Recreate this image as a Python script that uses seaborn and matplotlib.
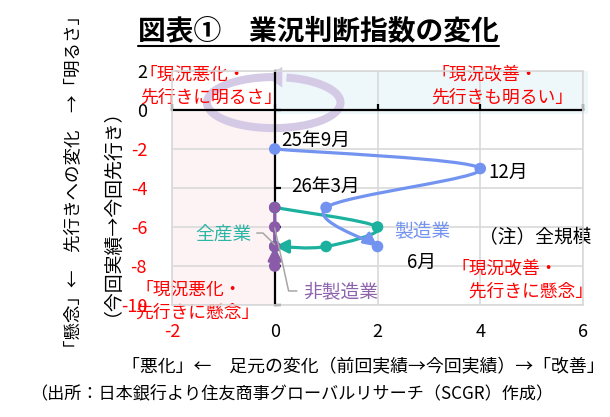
import numpy as np
import pandas as pd
import matplotlib
matplotlib.use("Agg")
import matplotlib.pyplot as plt
import seaborn as sns
from matplotlib.path import Path
from matplotlib.patches import FancyArrowPatch, Rectangle
from matplotlib.lines import Line2D

# ---------------- data ----------------
x_ticks = [-2, 0, 2, 4, 6]
y_ticks = [-10, -8, -6, -4, -2, 0, 2]
x_tick_labels = ["-2", "0", "2", "4", "6"]
y_tick_labels = ["-10", "-8", "-6", "-4", "-2", "0", "2"]

periods = ["25年9月", "12月", "26年3月", "6月"]
manu_x = [0, 4, 1, 2]          # 製造業: 足元の変化
manu_y = [-2, -3, -5, -7]      # 製造業: 先行きへの変化
all_x = [0, 2, 1, 0]           # 全産業
all_y = [-5, -6, -7, -7]
nonmanu_x = [0, 0, 0, 0]       # 非製造業
nonmanu_y = [-5, -6, -8, -7]

series_names = ["製造業", "全産業", "非製造業"]
colors = {"製造業": "#7393F0", "全産業": "#1BB19E", "非製造業": "#8A5BA8"}

df = pd.concat([
    pd.DataFrame({"x": manu_x, "y": manu_y, "series": "製造業", "period": periods}),
    pd.DataFrame({"x": all_x, "y": all_y, "series": "全産業", "period": periods}),
    pd.DataFrame({"x": nonmanu_x, "y": nonmanu_y, "series": "非製造業", "period": periods}),
], ignore_index=True)

# ---------------- style ----------------
sns.set_theme(style="white")
plt.rcParams["font.family"] = ["Noto Sans CJK JP", "DejaVu Sans"]
plt.rcParams["axes.unicode_minus"] = False

RED = "#FF0000"
W, H = 610, 417
fig = plt.figure(figsize=(W / 100, H / 100), dpi=100)
pos = [172 / W, 1 - 305 / H, (583 - 172) / W, (305 - 71) / H]
ax = fig.add_axes(pos)
ax.set_xlim(-2, 6)
ax.set_ylim(-10, 2)
ax.set_xticks(x_ticks)
ax.set_yticks(y_ticks)


def smooth_path(xs, ys):
    pts = np.column_stack([xs, ys]).astype(float)
    n = len(pts)
    verts = [pts[0]]
    codes = [Path.MOVETO]
    for i in range(n - 1):
        p_prev = pts[i - 1] if i > 0 else pts[i]
        p0, p1 = pts[i], pts[i + 1]
        p_next = pts[i + 2] if i + 2 < n else pts[i + 1]
        verts += [p0 + (p1 - p_prev) / 6, p1 - (p_next - p0) / 6, p1]
        codes += [Path.CURVE4] * 3
    return Path(verts, codes)


# background quadrants
ax.add_patch(Rectangle((-2, -10), 2, 9.9, facecolor="#FDF2F4", edgecolor="none", zorder=0.1))
ax.add_patch(Rectangle((0, -0.2), 6.1, 2.2, facecolor="#EEF7FA", edgecolor="none",
                       zorder=0.1, clip_on=False))

ax.grid(True, color="#D9D9D9", lw=1.2)
ax.set_axisbelow(True)

# decorative circular arrow (clockwise)
DECO = "#D5CAE6"
cx, cy, ra, rb = -0.02, 0.38, 1.30, 1.31
t = np.deg2rad(np.linspace(79, 96 - 360 - 8, 240))
ax.plot(cx + ra * np.cos(t), cy + rb * np.sin(t), color=DECO, lw=5.8,
        solid_capstyle="butt", zorder=0.7)
t_end = np.deg2rad(96 - 360)
t_prev = np.deg2rad(96 - 360 - 12)
ax.annotate("", xy=(cx + ra * np.cos(t_end), cy + rb * np.sin(t_end)),
            xytext=(cx + ra * np.cos(t_prev), cy + rb * np.sin(t_prev)),
            arrowprops=dict(arrowstyle="-|>,head_length=0.75,head_width=0.5",
                            mutation_scale=14, color=DECO, lw=0.5,
                            shrinkA=0, shrinkB=0), zorder=0.7)

# axis lines through origin
for side in ["top", "right"]:
    ax.spines[side].set_visible(False)
ax.spines["left"].set_position(("data", 0))
ax.spines["bottom"].set_position(("data", 0))
for side in ["left", "bottom"]:
    ax.spines[side].set_color("black")
    ax.spines[side].set_linewidth(1.6)
ax.tick_params(direction="in", length=4, width=1.6, color="black",
               left=True, bottom=True, labelleft=False, labelbottom=False)

# smooth lines with arrowheads
for name, xs, ys in [("全産業", all_x, all_y), ("製造業", manu_x, manu_y),
                     ("非製造業", nonmanu_x, nonmanu_y)]:
    ax.add_patch(FancyArrowPatch(path=smooth_path(xs, ys),
                                 arrowstyle="-|>,head_length=0.5,head_width=0.25",
                                 mutation_scale=16, color=colors[name], lw=2.3, zorder=3))

sns.scatterplot(data=df, x="x", y="y", hue="series", palette=colors, hue_order=series_names,
                s=70, edgecolor="none", linewidth=0, legend=False, ax=ax, zorder=4)
ax.set_xlabel("")
ax.set_ylabel("")

# point labels
ann = dict(textcoords="offset points", fontsize=13.5, color="black", va="center", zorder=6)
ax.annotate(periods[0], xy=(manu_x[0], manu_y[0]), xytext=(5, 6), ha="left", **ann)
ax.annotate(periods[1], xy=(manu_x[1], manu_y[1]), xytext=(6, -3), ha="left", **ann)
ax.annotate(periods[2], xy=(manu_x[2], manu_y[2]), xytext=(-25, 15), ha="left", **ann)
ax.annotate(periods[3], xy=(manu_x[3], manu_y[3]), xytext=(21.5, -11.5), ha="left", **ann)

# series labels with leader lines
ax.text(2.33, -6.2, "製造業", color=colors["製造業"], fontsize=13.5, va="center", ha="left", zorder=6)
ax.text(-0.45, -6.4, "全産業", color="#2DB5A5", fontsize=13.5, va="center", ha="right", zorder=6)
ax.text(0.55, -9.35, "非製造業", color="#8E63AE", fontsize=13.5, va="center", ha="left", zorder=6)
ax.plot([-0.35, -0.23, 0.0], [-6.31, -6.31, -6.9], color="#A6A6A6", lw=1.1, zorder=5)
ax.plot([0.0, 0.27, 0.43], [-6.05, -9.28, -9.28], color="#A6A6A6", lw=1.1, zorder=5)
ax.text(3.98, -6.56, "（注）全規模", color="black", fontsize=13.5, va="center", ha="left", zorder=6)

# quadrant captions
qkw = dict(color=RED, fontsize=12.8, va="center", ha="left", linespacing=1.32, zorder=6)
ax.text(-2.63, 1.23, "「現況悪化・\n先行きに明るさ」", **qkw)
ax.text(3.05, 1.23, "「現況改善・\n先行きも明るい」", **qkw)
ax.text(-2.72, -9.82, "「現況悪化・\n先行きに懸念」", **qkw)
ax.text(3.44, -8.72, "「現況改善・\n　先行きに懸念」", **qkw)

# label axes (tick labels at outer edges, gray frame)
ax2 = fig.add_axes(pos, sharex=ax, sharey=ax)
ax2.patch.set_visible(False)
ax2.grid(False)
for s in ax2.spines.values():
    s.set_color("#D9D9D9")
    s.set_linewidth(1.2)
ax2.set_xticks(x_ticks, labels=x_tick_labels)
ax2.set_yticks(y_ticks, labels=y_tick_labels)
ax2.tick_params(axis="x", length=0, labelsize=13, pad=13)
ax2.tick_params(axis="y", length=0, labelsize=13, pad=18)
for lbl, tk in zip(ax2.get_xticklabels(), x_ticks):
    lbl.set_color(RED if tk < 0 else "black")
for lbl, tk in zip(ax2.get_yticklabels(), y_ticks):
    lbl.set_color(RED if tk < 0 else "black")

# axis titles and notes
fig.text(73 / W, 1 - 182 / H, "「懸念」←　先行きへの変化　→「明るさ」", rotation=90,
         ha="center", va="center", fontsize=12.6, color="black")
fig.text(102 / W, 1 - 203 / H, "（今回実績→今回先行き）", rotation=90,
         ha="center", va="center", fontsize=13.6, color="black")
fig.text(363 / W, 1 - 367 / H, "「悪化」←　足元の変化（前回実績→今回実績）→「改善」",
         ha="center", va="center", fontsize=12.9, color="black")
fig.text(30 / W, 1 - 393 / H, "（出所：日本銀行より住友商事グローバルリサーチ（SCGR）作成）",
         ha="left", va="center", fontsize=12.3, color="black")

title = fig.text(138 / W, 1 - 31 / H, "図表①　業況判断指数の変化", ha="left", va="center",
                 fontsize=20, fontweight="bold", color="black")
fig.canvas.draw()
bb = title.get_window_extent()
fig.add_artist(Line2D([bb.x0 / W, bb.x1 / W], [1 - 46 / H, 1 - 46 / H],
                      transform=fig.transFigure, color="black", lw=1.5))

fig.savefig("out.png", dpi=100)
